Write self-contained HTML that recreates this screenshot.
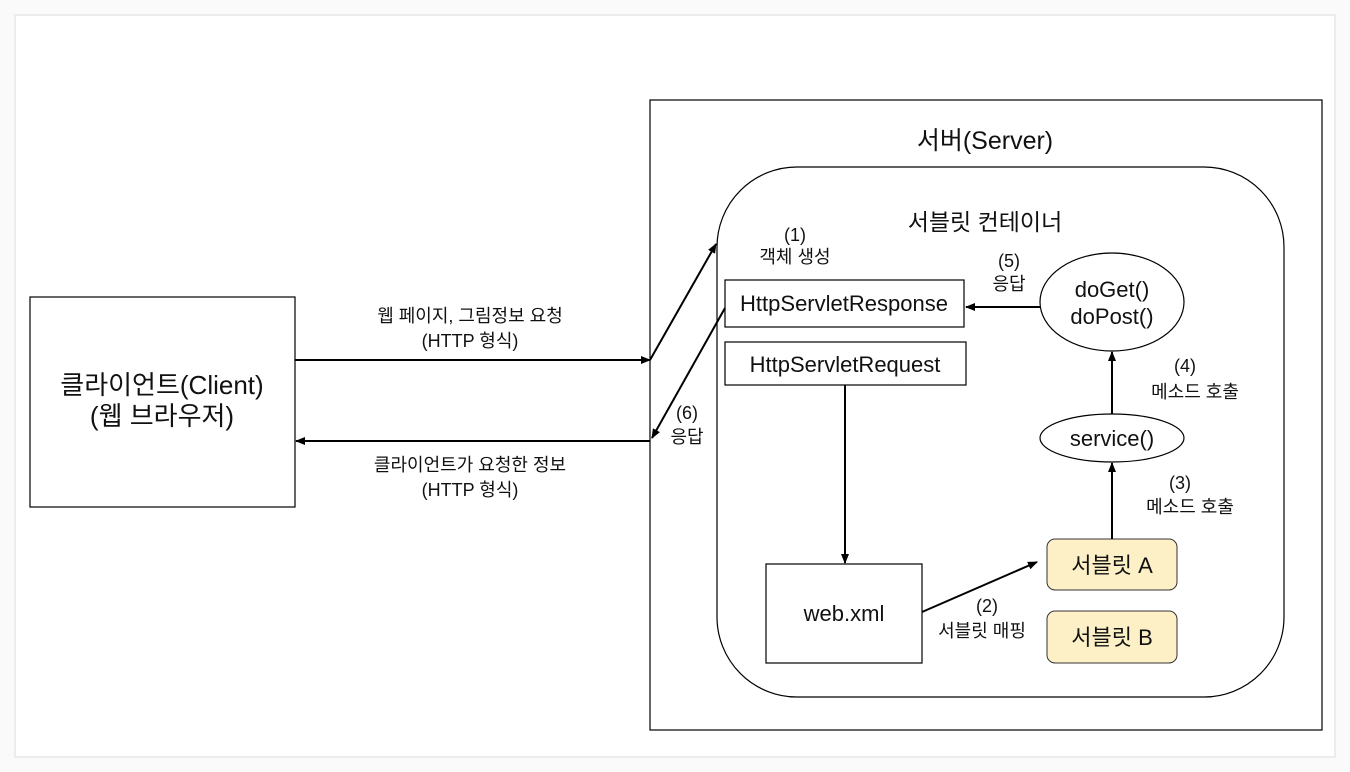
<!DOCTYPE html>
<html><head><meta charset="utf-8"><style>
html,body{margin:0;padding:0;background:#fafafa;width:1350px;height:772px;overflow:hidden}
svg{display:block}
text{font-family:"Liberation Sans","Noto Sans CJK KR","NanumGothic",sans-serif;fill:#111;text-anchor:middle}
</style></head><body>
<svg width="1350" height="772" viewBox="0 0 1350 772">
<defs><marker id="a" markerWidth="10" markerHeight="10" refX="9" refY="5" orient="auto" markerUnits="userSpaceOnUse"><path d="M0,1 L10,5 L0,9 z" fill="#000"/></marker></defs>
<rect x="15" y="15" width="1320" height="742" fill="#fff" stroke="#ececec" stroke-width="2"/>
<g fill="none" stroke="#000" stroke-width="1.2">
<rect x="30" y="297" width="265" height="210"/>
<rect x="650" y="100" width="672" height="630"/>
<rect x="717" y="167" width="567" height="530" rx="80"/>
<rect x="725" y="280" width="239" height="47"/>
<rect x="725" y="342" width="241" height="43"/>
<rect x="766" y="564" width="156" height="99"/>
<ellipse cx="1112" cy="302" rx="72" ry="49"/>
<ellipse cx="1112" cy="438" rx="72" ry="24"/>
</g>
<rect x="1047" y="539" width="130" height="51" rx="8" fill="#fdefc6" stroke="#333" stroke-width="1"/>
<rect x="1047" y="611" width="130" height="52" rx="8" fill="#fdefc6" stroke="#333" stroke-width="1"/>
<g stroke="#000" stroke-width="2" fill="none">
<line x1="295" y1="360" x2="650" y2="360" marker-end="url(#a)"/>
<line x1="650" y1="360" x2="716" y2="244" marker-end="url(#a)"/>
<line x1="725" y1="308" x2="652" y2="438" marker-end="url(#a)"/>
<line x1="650" y1="441" x2="296" y2="441" marker-end="url(#a)"/>
<line x1="845" y1="385" x2="845" y2="563" marker-end="url(#a)"/>
<line x1="922" y1="612" x2="1037" y2="562" marker-end="url(#a)"/>
<line x1="1112" y1="539" x2="1112" y2="463" marker-end="url(#a)"/>
<line x1="1112" y1="414" x2="1112" y2="352" marker-end="url(#a)"/>
<line x1="1040" y1="307" x2="966" y2="307" marker-end="url(#a)"/>
</g>
<g font-size="26">
<text x="162" y="394">클라이언트(Client)</text>
<text x="162" y="425">(웹 브라우저)</text>
</g>
<text x="985" y="149" font-size="25">서버(Server)</text>
<text x="985" y="230" font-size="23">서블릿 컨테이너</text>
<g font-size="22">
<text x="844" y="311">HttpServletResponse</text>
<text x="845" y="372">HttpServletRequest</text>
<text x="844" y="621">web.xml</text>
<text x="1112" y="297">doGet()</text>
<text x="1112" y="324">doPost()</text>
<text x="1112" y="446">service()</text>
<text x="1112" y="573">서블릿 A</text>
<text x="1112" y="645">서블릿 B</text>
</g>
<g font-size="18">
<text x="470" y="322">웹 페이지, 그림정보 요청</text>
<text x="470" y="347">(HTTP 형식)</text>
<text x="470" y="471">클라이언트가 요청한 정보</text>
<text x="470" y="496">(HTTP 형식)</text>
<text x="687" y="419">(6)</text>
<text x="687" y="443">응답</text>
<text x="795" y="241">(1)</text>
<text x="795" y="263">객체 생성</text>
<text x="1009" y="267">(5)</text>
<text x="1009" y="290">응답</text>
<text x="1185" y="372">(4)</text>
<text x="1195" y="398">메소드 호출</text>
<text x="1180" y="489">(3)</text>
<text x="1190" y="513">메소드 호출</text>
<text x="987" y="612">(2)</text>
<text x="982" y="637">서블릿 매핑</text>
</g>
</svg>
</body></html>
